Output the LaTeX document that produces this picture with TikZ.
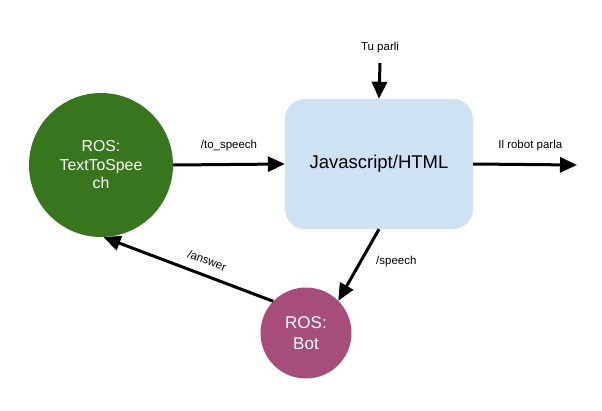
\documentclass[tikz,border=0pt]{standalone}
\usepackage{fontspec}
\setmainfont{Liberation Sans}
\usetikzlibrary{arrows.meta}
\definecolor{ttsgreen}{HTML}{38761D}
\definecolor{botpink}{HTML}{A64D79}
\definecolor{jsblue}{HTML}{CFE2F3}
\tikzset{
  arr/.style={line width=3pt, -{Triangle[length=17pt,width=15pt]}},
  lbl/.style={font=\fontsize{11.5}{13}\selectfont, inner sep=0pt},
  rosnode/.style={circle, draw=none, text=white, align=center, inner sep=0pt},
}
\begin{document}
\begin{tikzpicture}[x=1pt,y=-1pt]
\useasboundingbox[fill=white] (0,0) rectangle (602,410);
\node[rosnode, fill=ttsgreen, minimum size=144pt, font=\fontsize{15.8}{18.5}\selectfont] (tts) at (101,165) {ROS:\\TextToSpee\\ch};
\node[fill=jsblue, rounded corners=20pt, minimum width=188pt, minimum height=130pt, inner sep=0pt, font=\fontsize{18.5}{22}\selectfont] (js) at (379,164) {Javascript/HTML};
\node[rosnode, fill=botpink, minimum size=91pt, font=\fontsize{17}{21}\selectfont] (bot) at (306,333) {ROS:\\Bot};
\node[lbl] (tu) at (380,48) {Tu parli};
\coordinate (tustart) at (380,63);
\coordinate (out) at (577,165);
\draw[arr] (tustart) -- (js.north);
\draw[arr] (tts.east) -- (js.west) node[lbl, pos=0.5, above=12pt] (tolbl) {/to\_speech};
\draw[arr] (js.east) -- (out) node[lbl, pos=0.55, above=12pt] (robot) {Il robot parla};
\draw[arr] (js.south) -- (bot.45) node[lbl, pos=0.45, right=14pt] (sp) {/speech};
\draw[arr] (bot.136) -- (tts.-88) node[lbl, pos=0.42, above=9pt, sloped] (ans) {/answer};
\end{tikzpicture}
\end{document}
